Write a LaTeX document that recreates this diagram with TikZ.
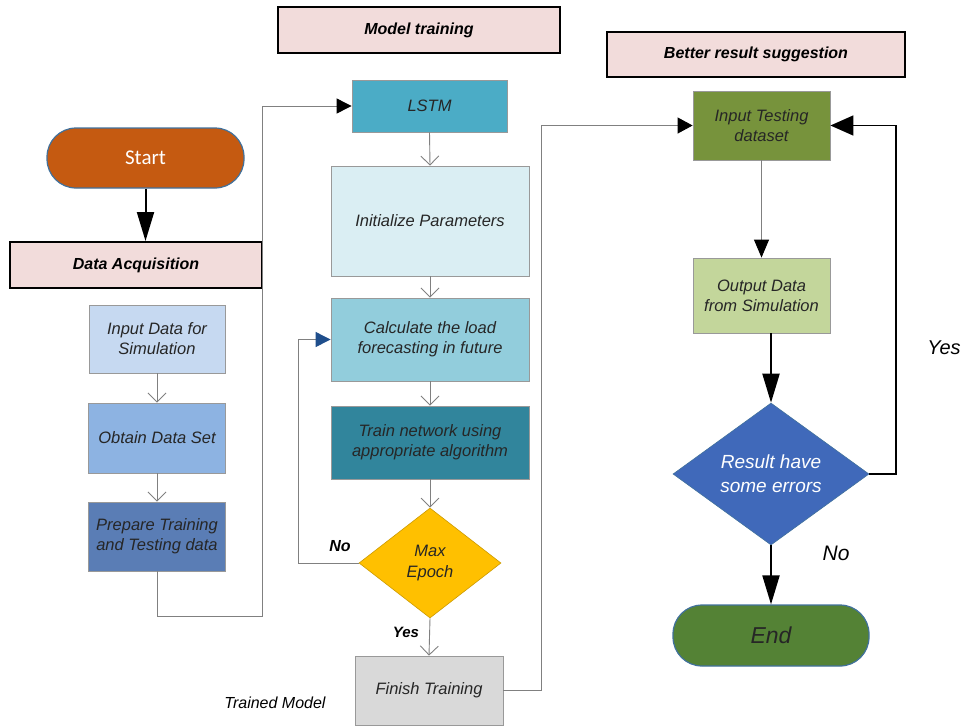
\documentclass[tikz,border=0pt]{standalone}
\usepackage{fontspec}
\setmainfont{Liberation Sans}
\newfontfamily\calfont{Carlito}
\usetikzlibrary{shapes.geometric,arrows.meta}
\definecolor{hdr}{HTML}{F2DCDB}
\definecolor{cin}{HTML}{C6D9F1}
\definecolor{cobt}{HTML}{8DB3E2}
\definecolor{cprep}{HTML}{5A7DB5}
\definecolor{clstm}{HTML}{4BACC6}
\definecolor{cinit}{HTML}{DAEEF3}
\definecolor{ccalc}{HTML}{92CDDC}
\definecolor{ctrain}{HTML}{31859C}
\definecolor{cmax}{HTML}{FFC000}
\definecolor{cfin}{HTML}{D9D9D9}
\definecolor{cits}{HTML}{77933C}
\definecolor{cout}{HTML}{C3D69B}
\definecolor{cres}{HTML}{4069BA}
\definecolor{cend}{HTML}{548235}
\definecolor{cstart}{HTML}{C55A11}
\definecolor{pillb}{HTML}{41719C}
\definecolor{txt}{HTML}{262626}
\definecolor{navy}{HTML}{1F4E8C}
\tikzset{
  every node/.style={inner sep=0pt, align=center},
  box/.style={rectangle, draw=gray!80, line width=0.8pt, text=txt, font=\fontsize{16.5}{20}\selectfont\itshape},
  header/.style={rectangle, draw=black, line width=2pt, fill=hdr, text=black, font=\fontsize{16}{20}\selectfont\bfseries\itshape},
  pill/.style={rectangle, rounded corners=29pt, draw=pillb, line width=1.2pt},
  dia/.style={diamond, aspect=1},
  vline/.style={draw=gray, line width=0.9pt, -{Straight Barb[length=9pt,width=18pt,line width=0.9pt]}},
  gline/.style={draw=gray, line width=0.9pt},
  bigarrow/.style={draw=black, line width=2pt, -{Triangle[length=29pt,width=17pt]}},
  lbl/.style={text=black}
}
\begin{document}
\begin{tikzpicture}[x=1pt,y=-1pt]
\useasboundingbox (0,0) rectangle (968,726);
% left column
\node[pill, fill=cstart, minimum width=197pt, minimum height=60pt, text=white, font=\calfont\fontsize{21}{25}\selectfont] (start) at (145.5,158) {Start};
\node[header, minimum width=252pt, minimum height=46pt] (da) at (136,265) {Data Acquisition};
\node[box, fill=cin, minimum width=136pt, minimum height=68pt] (in1) at (157,339) {Input Data for\\Simulation};
\node[box, fill=cobt, minimum width=137pt, minimum height=70pt] (obt) at (157,438) {Obtain Data Set};
\node[box, fill=cprep, minimum width=137pt, minimum height=69pt] (prep) at (157,536.5) {Prepare Training\\and Testing data};
% middle column
\node[header, minimum width=282pt, minimum height=46pt] (mt) at (419,30) {Model training};
\node[box, fill=clstm, minimum width=155pt, minimum height=52pt] (lstm) at (429.5,106) {LSTM};
\node[box, fill=cinit, minimum width=198pt, minimum height=110pt] (init) at (430,221) {Initialize Parameters};
\node[box, fill=ccalc, minimum width=198pt, minimum height=83pt] (calc) at (430,339.5) {Calculate the load\\forecasting in future};
\node[box, fill=ctrain, minimum width=198pt, minimum height=73pt] (train) at (430,442.5) {Train network using\\appropriate algorithm};
\node[dia, draw=cmax!80!black, line width=0.6pt, fill=cmax, minimum width=142pt, minimum height=110pt, text=txt, font=\fontsize{16.5}{21}\selectfont\itshape] (maxep) at (430,563) {Max\\Epoch};
\node[box, fill=cfin, minimum width=148pt, minimum height=69pt] (fin) at (429,690.5) {Finish Training};
\node[lbl, font=\fontsize{16}{20}\selectfont\itshape] (tm) at (275,703) {Trained Model};
\node[lbl, font=\fontsize{16}{20}\selectfont\bfseries\itshape] (no1) at (340,546) {No};
\node[lbl, font=\fontsize{15}{20}\selectfont\bfseries\itshape] (yes1) at (406,632) {Yes};
% right column
\node[header, minimum width=298pt, minimum height=45pt] (br) at (756,54) {Better result suggestion};
\node[box, fill=cits, minimum width=137pt, minimum height=69pt] (its) at (761.5,125.5) {Input Testing\\dataset};
\node[box, fill=cout, minimum width=137pt, minimum height=75pt] (out) at (761.5,295.5) {Output Data\\from Simulation};
\node[dia, draw=pillb, line width=0.6pt, fill=cres, minimum width=196pt, minimum height=142pt, text=white, font=\fontsize{19}{24}\selectfont\itshape] (res) at (771,474) {Result have\\some errors};
\node[pill, fill=cend, minimum width=196pt, minimum height=61pt, text=black!85, font=\fontsize{23}{27}\selectfont\itshape] (endn) at (771,635.5) {End};
\node[lbl, font=\fontsize{20}{24}\selectfont\itshape] (yes2) at (944,348) {Yes};
\node[lbl, font=\fontsize{21}{24}\selectfont\itshape] (no2) at (836,553) {No};
% connectors
\draw[bigarrow] (start.south) -- (start.south |- da.north);
\draw[vline] (in1.south) -- (obt.north);
\draw[vline] (obt.south) -- (prep.north);
\draw[gline, -{Triangle[length=15pt,width=15pt,color=black]}] (prep.south) -- (157,616) -- (262,616) -- (262,106) -- (lstm.west);
\draw[vline] (lstm.south) -- (init.north);
\draw[vline] (init.south) -- (calc.north);
\draw[vline] (calc.south) -- (train.north);
\draw[vline] (train.south) -- (maxep.north);
\draw[vline] (maxep.south) -- (fin.north);
\draw[gline, -{Triangle[length=15pt,width=15pt,color=navy]}] (maxep.west) -- (298,563) -- (298,339.5) -- (calc.west);
\draw[gline, -{Triangle[length=15pt,width=16pt,color=black]}] (fin.east) -- (541,690.5) -- (541,125.5) -- (its.west);
\draw[gline, -{Triangle[length=18pt,width=15pt,color=black]}] (its.south) -- (out.north);
\coordinate (outb) at (771,333);
\draw[bigarrow] (outb) -- (res.north);
\draw[draw=black, line width=1.5pt, -{Triangle[length=23pt,width=20pt]}] (res.east) -- (896,474) -- (896,125.5) -- (its.east);
\draw[bigarrow] (res.south) -- (endn.north);
\end{tikzpicture}
\end{document}
